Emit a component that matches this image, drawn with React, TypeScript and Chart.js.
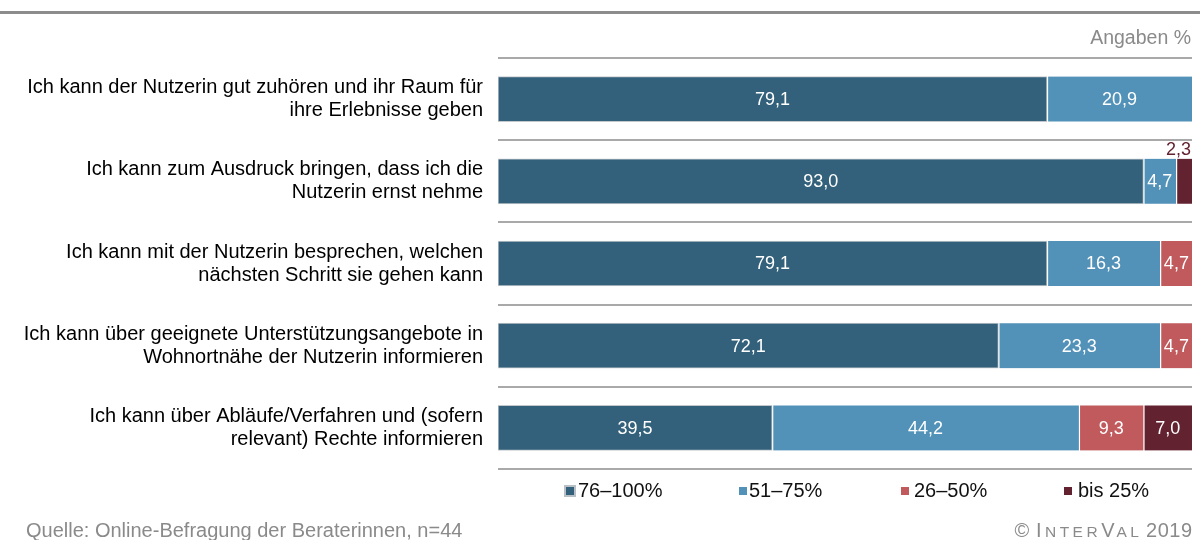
import React, { useEffect, useRef } from "react";
import { Chart, registerables } from "chart.js";

Chart.register(...registerables);

const FONT = "'Liberation Sans', Arial, Helvetica, sans-serif";

const categories: string[][] = [
  ["Ich kann der Nutzerin gut zuhören und ihr Raum für", "ihre Erlebnisse geben"],
  ["Ich kann zum Ausdruck bringen, dass ich die", "Nutzerin ernst nehme"],
  ["Ich kann mit der Nutzerin besprechen, welchen", "nächsten Schritt sie gehen kann"],
  ["Ich kann über geeignete Unterstützungsangebote in", "Wohnortnähe der Nutzerin informieren"],
  ["Ich kann über Abläufe/Verfahren und (sofern", "relevant) Rechte informieren"],
];

const seriesLabels = ["76–100%", "51–75%", "26–50%", "bis 25%"];
const seriesColors = ["#33607A", "#5291B8", "#C05A5C", "#62222F"];

const s76to100: (number | null)[] = [79.1, 93.0, 79.1, 72.1, 39.5];
const s51to75: (number | null)[] = [20.9, 4.7, 16.3, 23.3, 44.2];
const s26to50: (number | null)[] = [null, null, 4.7, 4.7, 9.3];
const sBis25: (number | null)[] = [null, 2.3, null, null, 7.0];

const seriesValues = [s76to100, s51to75, s26to50, sBis25];

const unitLabel = "Angaben %";
const sourceLabel = "Quelle: Online-Befragung der Beraterinnen, n=44";

const LEGEND_BOX_X = [566, 739, 901, 1064];
const LEGEND_TEXT_X = [578, 749, 914, 1078];

const fmt = (v: number) => v.toFixed(1).replace(".", ",");

const customPlugin = {
  id: "customDecor",
  beforeDraw(chart: any) {
    const ctx = chart.ctx;
    ctx.save();
    ctx.fillStyle = "#8c8c8c";
    ctx.fillRect(0, 11, 1200, 3);
    ctx.restore();
  },
  afterDatasetsDraw(chart: any) {
    const ctx = chart.ctx;
    ctx.save();
    ctx.font = `18px ${FONT}`;
    chart.data.datasets.forEach((ds: any, i: number) => {
      const meta = chart.getDatasetMeta(i);
      meta.data.forEach((bar: any, j: number) => {
        const v = ds.data[j];
        if (v == null) return;
        const p = bar.getProps(["x", "y", "base", "height"], true);
        const w = Math.abs(p.x - p.base);
        const txt = fmt(v);
        const tw = ctx.measureText(txt).width;
        if (w >= tw + 2) {
          ctx.fillStyle = "#ffffff";
          ctx.textAlign = "center";
          ctx.textBaseline = "middle";
          ctx.fillText(txt, (p.x + p.base) / 2, p.y + 1);
        } else {
          ctx.fillStyle = seriesColors[i];
          ctx.textAlign = "right";
          ctx.textBaseline = "alphabetic";
          ctx.fillText(txt, p.x - 1, p.y - p.height / 2 - 4);
        }
      });
    });
    ctx.restore();
  },
  afterDraw(chart: any) {
    const ctx = chart.ctx;
    ctx.save();
    // unit label
    ctx.font = `19.5px ${FONT}`;
    ctx.fillStyle = "#8a8a8a";
    ctx.textAlign = "right";
    ctx.textBaseline = "alphabetic";
    ctx.fillText(unitLabel, 1191, 44);

    // legend
    ctx.font = `20px ${FONT}`;
    ctx.textBaseline = "middle";
    ctx.textAlign = "left";
    seriesLabels.forEach((lab, i) => {
      const bx = LEGEND_BOX_X[i];
      if (i === 0) {
        ctx.fillStyle = "#b9c0c5";
        ctx.fillRect(bx - 2, 485, 12, 12);
      }
      ctx.fillStyle = seriesColors[i];
      ctx.fillRect(bx, 487, 8, 8);
      ctx.fillStyle = "#111111";
      ctx.fillText(lab, LEGEND_TEXT_X[i], 491);
    });

    // footer left
    ctx.font = `20px ${FONT}`;
    ctx.fillStyle = "#8a8a8a";
    ctx.textBaseline = "alphabetic";
    ctx.textAlign = "left";
    ctx.fillText(sourceLabel, 26, 537);

    // footer right: © INTERVAL 2019 in small caps
    const parts: [string, number, number][] = [
      ["©", 20, 1],
      [" ", 20, 0],
      ["I", 20, 3.5],
      ["N", 15.5, 3.5],
      ["T", 15.5, 3.5],
      ["E", 15.5, 3.5],
      ["R", 15.5, 3.5],
      ["V", 20, 2],
      ["A", 15.5, 3.5],
      ["L", 15.5, 1],
      [" ", 20, 0.5],
      ["2", 20, 0.5],
      ["0", 20, 0.5],
      ["1", 20, 0.5],
      ["9", 20, 0],
    ];
    let total = 0;
    parts.forEach(([c, s, sp]) => {
      ctx.font = `${s}px ${FONT}`;
      total += ctx.measureText(c).width + sp;
    });
    let x = 1192 - total;
    parts.forEach(([c, s, sp]) => {
      ctx.font = `${s}px ${FONT}`;
      ctx.fillText(c, x, 537);
      x += ctx.measureText(c).width + sp;
    });
    ctx.restore();
  },
};

export default function App() {
  const canvasRef = useRef<HTMLCanvasElement | null>(null);

  useEffect(() => {
    if (!canvasRef.current) return;
    const datasets = seriesValues.map((vals, i) => ({
      label: seriesLabels[i],
      data: vals,
      backgroundColor: seriesColors[i],
      borderColor: i === 0 ? "#c3c8cc" : "#ffffff",
      borderWidth: i === 0 ? 1 : { left: 1.5, right: 0, top: 0, bottom: 0 },
      borderSkipped: false,
      barThickness: 45,
    }));
    const chart = new Chart(canvasRef.current, {
      type: "bar",
      data: { labels: categories, datasets },
      options: {
        indexAxis: "y",
        animation: false,
        responsive: false,
        maintainAspectRatio: false,
        layout: { padding: { top: 58, bottom: 71, left: 0, right: 8 } },
        plugins: {
          legend: { display: false },
          tooltip: { enabled: false },
        },
        scales: {
          x: {
            stacked: true,
            min: 0,
            max: 100,
            display: false,
          },
          y: {
            stacked: true,
            afterFit: (scale: any) => {
              scale.width = 498;
            },
            grid: {
              offset: true,
              color: "#a9a9a9",
              lineWidth: 2,
              drawTicks: false,
            },
            border: { display: false },
            ticks: {
              padding: 15,
              color: "#000000",
              font: { family: FONT, size: 20, lineHeight: 1.15 },
            },
          },
        },
      },
      plugins: [customPlugin],
    } as any);
    return () => chart.destroy();
  }, []);

  return (
    <div style={{ position: "absolute", left: 0, top: 0, width: 1200, height: 540, background: "#ffffff" }}>
      <canvas ref={canvasRef} width={1200} height={540} style={{ width: 1200, height: 540, display: "block" }} />
    </div>
  );
}
